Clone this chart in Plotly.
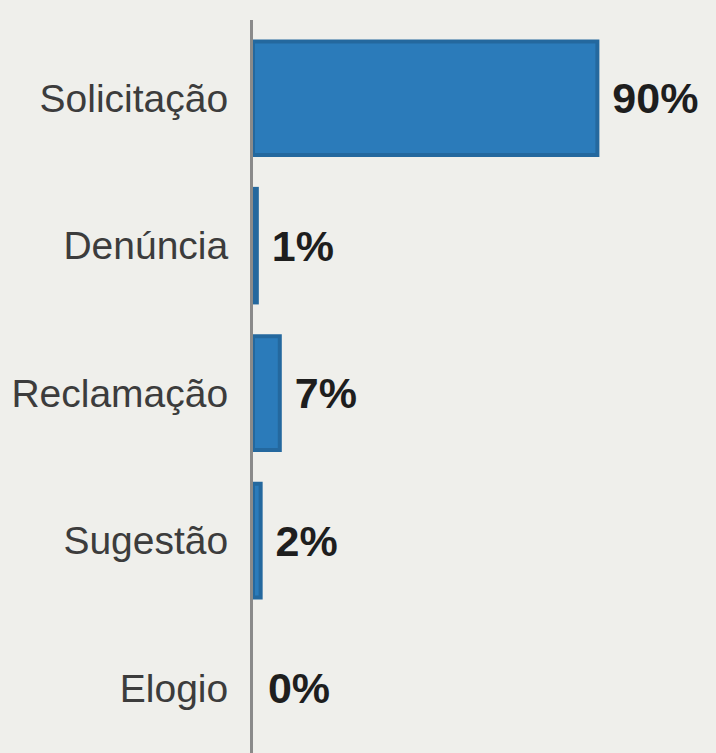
import plotly.graph_objects as go

categories = ["Solicitação", "Denúncia", "Reclamação", "Sugestão", "Elogio"]
percent = [90, 1, 7, 2, 0]

BG = "#efefeb"
BLUE = "#2b7bba"

fig = go.Figure()
fig.add_bar(
    y=categories,
    x=percent,
    orientation="h",
    width=0.77,
    marker={
        "color": BLUE,
        "line": {"color": "#24689e", "width": [4 if v > 0 else 0 for v in percent]},
    },
    text=[" {}%".format(v) for v in percent],
    textposition="outside",
    textfont={"family": "Liberation Sans, Arial, sans-serif", "size": 43, "color": "#1e1e1e"},
    texttemplate="<b>%{text}</b>",
    cliponaxis=False,
    showlegend=False,
    hoverinfo="skip",
)

fig.update_layout(
    width=716,
    height=753,
    margin={"t": 20, "b": 0, "l": 253, "r": 0},
    paper_bgcolor=BG,
    plot_bgcolor=BG,
)
fig.update_xaxes(
    range=[0, 121],
    showticklabels=False,
    showgrid=False,
    zeroline=False,
    showline=False,
)
fig.update_yaxes(
    categoryorder="array",
    categoryarray=categories,
    range=[4.44, -0.53],
    showgrid=False,
    zeroline=False,
    showline=True,
    linecolor="#8a8a8a",
    linewidth=3,
    ticks="",
    ticklabelstandoff=14,
    tickfont={"family": "Liberation Sans, Arial, sans-serif", "size": 39, "color": "#3c3c3c"},
)

# remove the page margin so the figure sits at the window's corner
fig.write_html(
    "out.html",
    config={"displayModeBar": False},
    post_script="document.body.style.margin='0';document.body.style.background='%s';" % BG,
)
